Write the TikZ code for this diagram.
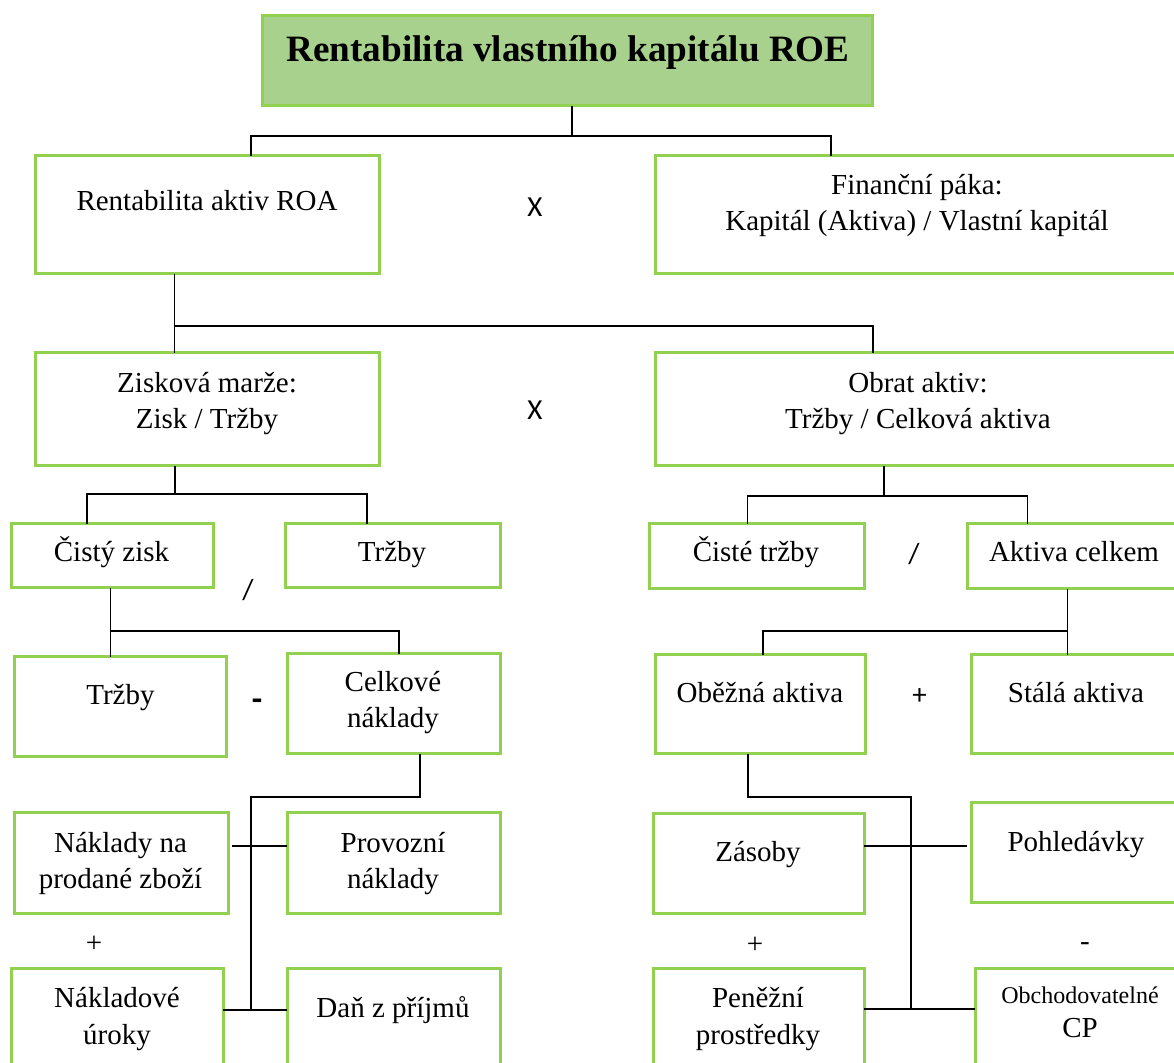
\documentclass[tikz,border=0pt]{standalone}
\usepackage{fontspec}
\setmainfont{Liberation Serif}
\newfontfamily\opfont{Carlito}
\usetikzlibrary{fit}
\definecolor{boxgreen}{RGB}{146,208,80}
\definecolor{titlefill}{RGB}{169,209,142}
\begin{document}
\begin{tikzpicture}[x=0.5pt,y=-0.5pt,
  box/.style={draw=boxgreen, line width=1.5pt, rectangle, inner sep=0pt, outer sep=0pt},
  lbl/.style={align=center, inner sep=0pt, anchor=base, font=\fontsize{14.5}{18.4}\selectfont},
  op/.style={inner sep=0pt, font=\opfont\fontsize{14.5}{17}\selectfont},
  sop/.style={inner sep=0pt, font=\fontsize{14.5}{17}\selectfont},
  link/.style={draw=black, line width=0.75pt}]
\useasboundingbox (0,0) rectangle (1174,1063);
\clip (0,0) rectangle (1174,1063);

% ---- boxes ----
\node[box, fill=titlefill, fit={(262,16) (872,106)}] (roe) {};
\node[box, fit={(35,156) (379,274)}] (roa) {};
\node[box, fit={(655,156) (1185,274)}] (fin) {};
\node[box, fit={(35,353) (379,466)}] (zisk) {};
\node[box, fit={(655,353) (1185,466)}] (obrat) {};
\node[box, fit={(11,524) (213,588)}] (cisty) {};
\node[box, fit={(285,524) (500,588)}] (trzbyA) {};
\node[box, fit={(649,524) (864,589)}] (ciste) {};
\node[box, fit={(967,524) (1185,589)}] (aktiva) {};
\node[box, fit={(14.5,657) (226,757)}] (trzbyB) {};
\node[box, fit={(287,654) (500,754)}] (celk) {};
\node[box, fit={(655,655) (865,754)}] (obez) {};
\node[box, fit={(971,655) (1185,754)}] (stala) {};
\node[box, fit={(14.5,813) (228,914)}] (npz) {};
\node[box, fit={(287,813) (500,914)}] (prov) {};
\node[box, fit={(11,969) (223,1075)}] (urok) {};
\node[box, fit={(287,969) (500,1075)}] (dan) {};
\node[box, fit={(653,814) (864,914)}] (zas) {};
\node[box, fit={(971,803) (1185,903)}] (pohl) {};
\node[box, fit={(653,969) (864,1075)}] (pen) {};
\node[box, fit={(975,969) (1185,1075)}] (obch) {};

% ---- texts (anchored at last baseline) ----
\node[inner sep=0pt, anchor=base, font=\bfseries\fontsize{18.6}{22}\selectfont] (roe-t) at (568,62) {Rentabilita vlastního kapitálu ROE};
\node[lbl] (roa-t) at (207,211) {Rentabilita aktiv ROA};
\node[lbl] (fin-t) at (917,231) {Finanční páka:\\Kapitál (Aktiva) / Vlastní kapitál};
\node[lbl] (zisk-t) at (207,429) {Zisková marže:\\Zisk / Tržby};
\node[lbl] (obrat-t) at (918,429) {Obrat aktiv:\\Tržby / Celková aktiva};
\node[lbl] (cisty-t) at (111.5,562) {Čistý zisk};
\node[lbl] (trzbyA-t) at (392,562) {Tržby};
\node[lbl] (ciste-t) at (756,562) {Čisté tržby};
\node[lbl] (aktiva-t) at (1074,562) {Aktiva celkem};
\node[lbl] (trzbyB-t) at (120.5,705) {Tržby};
\node[lbl] (celk-t) at (393,728) {Celkové\\náklady};
\node[lbl] (obez-t) at (760,703) {Oběžná aktiva};
\node[lbl] (stala-t) at (1076,703) {Stálá aktiva};
\node[lbl] (npz-t) at (120.5,889) {Náklady na\\prodané zboží};
\node[lbl] (prov-t) at (393,889) {Provozní\\náklady};
\node[lbl] (urok-t) at (117,1044) {Nákladové\\úroky};
\node[lbl] (dan-t) at (393,1017) {Daň z příjmů};
\node[lbl] (zas-t) at (758,862) {Zásoby};
\node[lbl] (pohl-t) at (1076,852) {Pohledávky};
\node[lbl] (pen-t) at (758,1044) {Peněžní\\prostředky};
\node[lbl, font=\fontsize{12}{17}\selectfont] (obch-t) at (1080,1037) {Obchodovatelné\\{\fontsize{14.5}{17}\selectfont CP}};

% ---- operators ----
\node[op] (op1) at (535,207) {X};
\node[op] (op2) at (535,410) {X};
\node[op] (op3) at (248,590) {/};
\node[op] (op4) at (914,554) {/};
\node[op, font=\opfont\bfseries\fontsize{17}{17}\selectfont] (op5) at (257,705) {-};
\node[op] (op6) at (919.5,697) {+};
\node[sop] (op7) at (94,944) {+};
\node[sop] (op8) at (755,945) {+};
\node[sop] (op9) at (1085,947) {-};

% ---- junction coordinates ----
\coordinate (a0) at (572,136);
\coordinate (a1) at (251,136);
\coordinate (a2) at (831,136);
\coordinate (b0) at (174.5,326);
\coordinate (b2) at (873,326);
\coordinate (c0) at (175,494);
\coordinate (c1) at (87,494);
\coordinate (c2) at (367,494);
\coordinate (d0) at (884,496);
\coordinate (d1) at (747.5,496);
\coordinate (d2) at (1027.5,496);
\coordinate (e0) at (110.6,631);
\coordinate (e2) at (399,631);
\coordinate (f0) at (1067.4,631);
\coordinate (f1) at (763,631);
\coordinate (g0) at (420,797);
\coordinate (g1) at (251,797);
\coordinate (g2) at (251,1010);
\coordinate (g3) at (231.5,846);
\coordinate (h0) at (748,797);
\coordinate (h1) at (911,797);
\coordinate (h2) at (911,1009);
\coordinate (h3) at (967,846);

% ---- connectors ----
\draw[link] (roe.south -| a0) -- (a0);
\draw[link] (roa.north -| a1) |- (a2) -- (fin.north -| a2);
\draw[link] (roa.south -| b0) -- (b0) -- (b2) -- (obrat.north -| b2);
\draw[link] (b0) -- (zisk.north -| b0);
\draw[link] (zisk.south -| c0) -- (c0);
\draw[link] (cisty.north -| c1) |- (c2) -- (trzbyA.north -| c2);
\draw[link] (obrat.south -| d0) -- (d0);
\draw[link] (ciste.north -| d1) |- (d2) -- (aktiva.north -| d2);
\draw[link] (cisty.south -| e0) -- (trzbyB.north -| e0);
\draw[link] (e0) -- (e2) -- (celk.north -| e2);
\draw[link] (aktiva.south -| f0) -- (stala.north -| f0);
\draw[link] (obez.north -| f1) |- (f0);
\draw[link] (celk.south -| g0) |- (g1) -- (g2);
\draw[link] (g3) -- (prov.west |- g3);
\draw[link] (urok.east |- g2) -- (dan.west |- g2);
\draw[link] (obez.south -| h0) |- (h1) -- (h2);
\draw[link] (zas.east |- h3) -- (h3);
\draw[link] (pen.east |- h2) -- (obch.west |- h2);
\end{tikzpicture}
\end{document}
